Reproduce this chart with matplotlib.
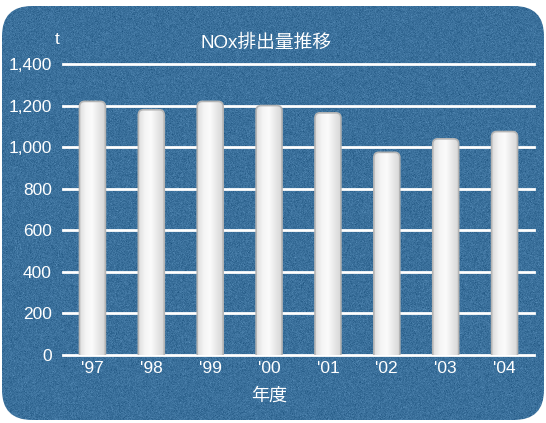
import numpy as np
import matplotlib.pyplot as plt
from matplotlib.patches import FancyBboxPatch
from matplotlib.colors import LinearSegmentedColormap

plt.rcParams['font.family'] = ['Liberation Sans', 'Noto Sans CJK JP', 'DejaVu Sans']

# NOx emissions per fiscal year (t)
years = ["'97", "'98", "'99", "'00", "'01", "'02", "'03", "'04"]
nox = [1220, 1180, 1220, 1200, 1165, 975, 1040, 1075]
yticks = [0, 200, 400, 600, 800, 1000, 1200, 1400]

panel_color = (0.23, 0.44, 0.61)

fig = plt.figure(figsize=(5.46, 4.23), dpi=100)

# textured blue panel with rounded corners
bg = fig.add_axes([0, 0, 1, 1])
bg.set_xlim(0, 546)
bg.set_ylim(0, 423)
bg.axis('off')
panel = FancyBboxPatch((2, 3), 542, 414, boxstyle="round,pad=0,rounding_size=30",
                       facecolor='none', edgecolor='none')
bg.add_patch(panel)
rng = np.random.default_rng(3)
noise = rng.normal(0, 0.03, (423, 546, 1))
tex = np.clip(np.array(panel_color)[None, None, :] + noise, 0, 1)
im = bg.imshow(tex, extent=(0, 546, 0, 423), origin='lower', aspect='auto',
               interpolation='nearest')
im.set_clip_path(panel)

ax = fig.add_axes([63 / 546, 68 / 423, 471 / 546, 291 / 423])
ax.set_facecolor('none')

for v in yticks:
    ax.axhline(v, color='white', lw=2, zorder=1, clip_on=False)

x = np.arange(len(years))
bars = ax.bar(x, nox, width=0.44, color='none', edgecolor='none')

grad = LinearSegmentedColormap.from_list(
    'bar', ['#dcdcdc', '#f4f4f4', '#fbfbfb', '#e8e8e8', '#d6d6d6'])
gimg = np.linspace(0, 1, 64)[None, :]
for b in bars:
    bx, bw, bh = b.get_x(), b.get_width(), b.get_height()
    # rounded top; bottom pushed below zero so only the top corners show
    shape = FancyBboxPatch((bx, -60), bw, bh + 60,
                           boxstyle="round,pad=0,rounding_size=0.085",
                           mutation_aspect=290, facecolor='none',
                           edgecolor='#b4b4b4', lw=1.2, zorder=3)
    ax.add_patch(shape)
    g = ax.imshow(gimg, extent=(bx, bx + bw, -60, bh), aspect='auto',
                  cmap=grad, zorder=2, interpolation='bilinear')
    g.set_clip_path(shape)
ax.set_xlim(-0.5, len(years) - 0.5)
ax.set_ylim(0, 1400)

for s in ax.spines.values():
    s.set_visible(False)
ax.set_xticks(x)
ax.set_xticklabels(years)
ax.set_yticks(yticks)
ax.set_yticklabels([f"{v:,}" for v in yticks])
ax.tick_params(length=0, colors='white', labelsize=12.5)
ax.tick_params(axis='y', pad=8)
ax.tick_params(axis='x', pad=4)

fig.text(269 / 546, 1 - 396 / 423, '年度', color='white', fontsize=13,
         ha='center', va='center')
fig.text(266 / 546, 1 - 43 / 423, 'NOx排出量推移', color='white', fontsize=13.5,
         ha='center', va='center')
fig.text(57 / 546, 1 - 40 / 423, 't', color='white', fontsize=12.5,
         ha='center', va='center')

fig.savefig('out.png', dpi=100)
